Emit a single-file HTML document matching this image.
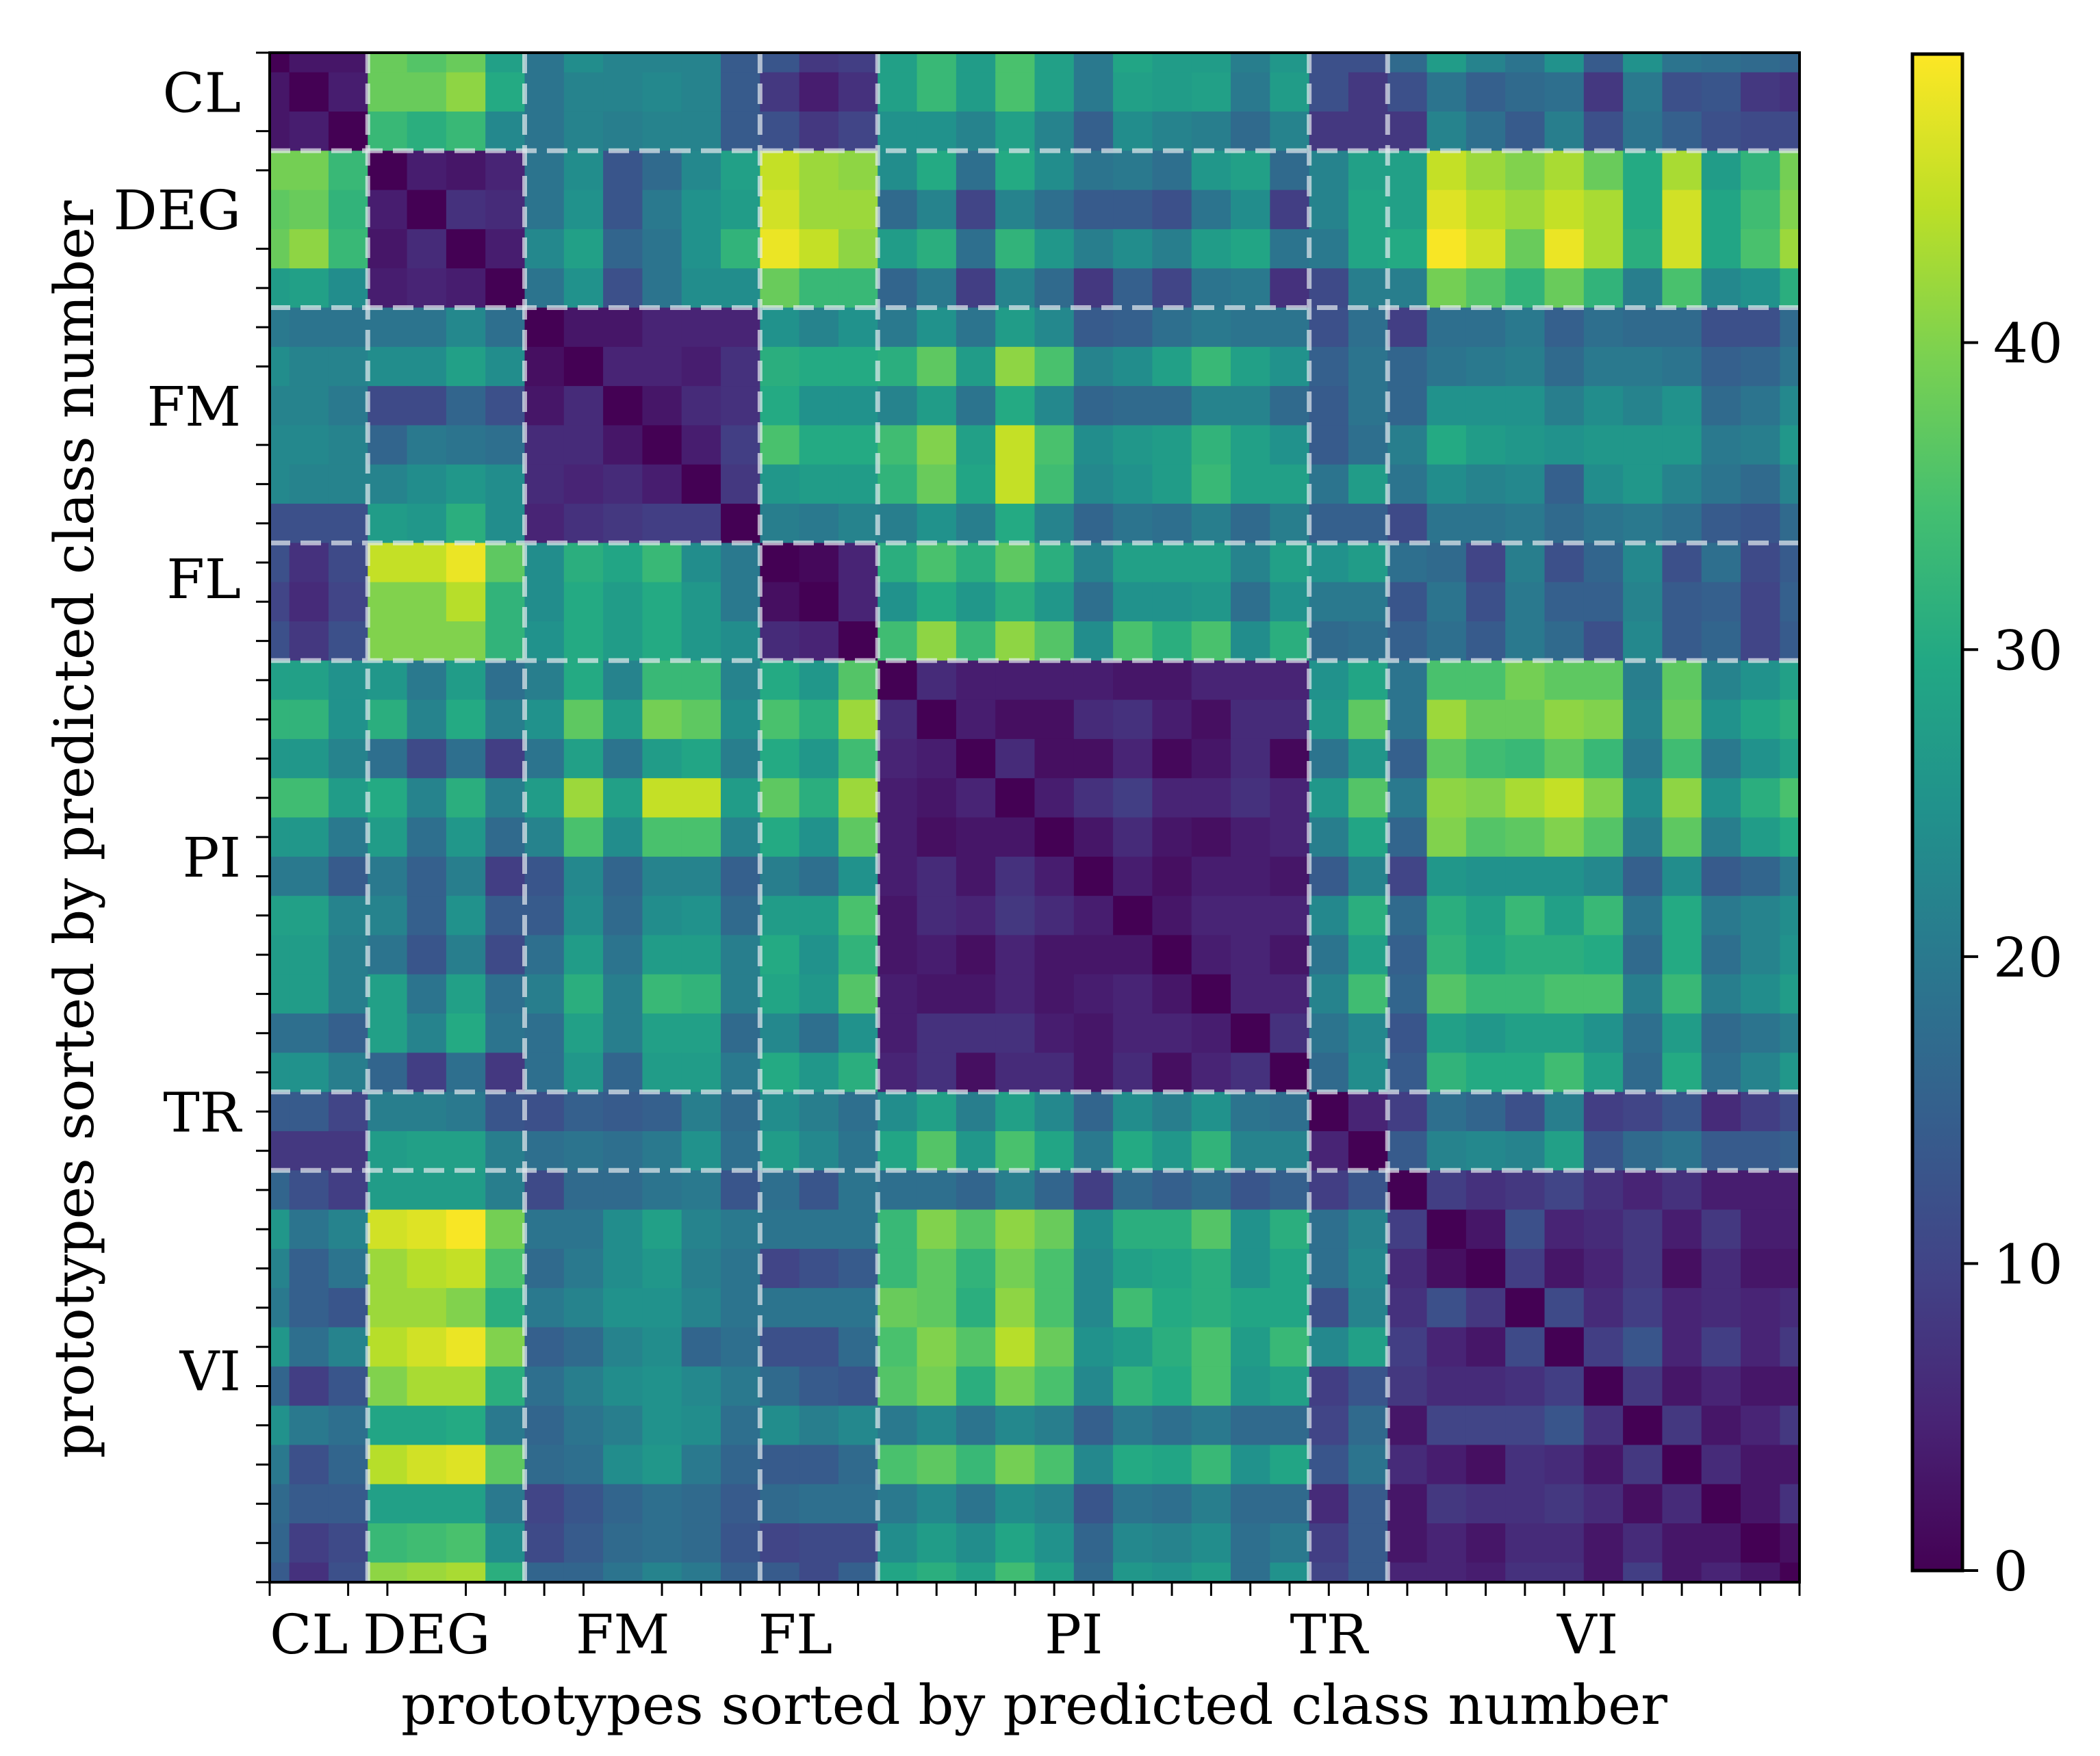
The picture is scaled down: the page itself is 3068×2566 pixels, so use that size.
<!DOCTYPE html>
<html><head><meta charset="utf-8">
<style>
html,body{margin:0;padding:0;background:#fff;}
svg{display:block;}
text{font-family:"DejaVu Serif","Liberation Serif",serif;fill:#000;}
</style></head>
<body>
<svg id="fig" width="3068" height="2566" viewBox="0 0 3068 2566" xmlns="http://www.w3.org/2000/svg">
<defs>
<clipPath id="axclip"><rect x="394" y="77" width="2235" height="2235"/></clipPath>
<linearGradient id="cbgrad" x1="0" y1="1" x2="0" y2="0">
<stop offset="0" stop-color="#440154"/><stop offset="0.1" stop-color="#482475"/><stop offset="0.2" stop-color="#414487"/><stop offset="0.3" stop-color="#355f8d"/><stop offset="0.4" stop-color="#2a788e"/><stop offset="0.5" stop-color="#21918c"/><stop offset="0.6" stop-color="#22a884"/><stop offset="0.7" stop-color="#44bf70"/><stop offset="0.8" stop-color="#7ad151"/><stop offset="0.9" stop-color="#bddf26"/><stop offset="1" stop-color="#fde725"/>
</linearGradient>
</defs>
<g id="cells" clip-path="url(#axclip)"></g>
<g id="dashes" clip-path="url(#axclip)"></g>
<rect x="394" y="77" width="2235" height="2235" fill="none" stroke="#000" stroke-width="4"/>
<g id="ticks"></g>
<text x="1511" y="2519" text-anchor="middle" font-size="80" textLength="1850" lengthAdjust="spacingAndGlyphs">prototypes sorted by predicted class number</text>
<text transform="translate(136,1212) rotate(-90)" text-anchor="middle" font-size="80" textLength="1838" lengthAdjust="spacingAndGlyphs">prototypes sorted by predicted class number</text>
<rect x="2794" y="79" width="73" height="2216" fill="url(#cbgrad)" stroke="#000" stroke-width="5"/>
<g id="cbticks"></g>
</svg>
<script>
const classLabels = ["CL","DEG","FM","FL","PI","TR","VI"];
const classLabelPos = [1,4,9,13.4,20.5,27.0,33.6];
const boundaries = [2.5,6.5,12.5,15.5,26.5,28.5];
const cbTicks = [0,10,20,30,40];
const vmax = 49.4;
const matrix = [
[0,3,3,38,36,38,28,19,24,22,22,22,14,13,8,9,28,33,27,35,28,20,29,27,27,21,26,12,12,17,27,22,19,25,14,25,19,18,17,16],
[3,0,4,38,38,41,30,19,22,22,23,22,14,8,4,7,28,33,27,35,28,20,28,27,28,20,27,12,8,12,19,15,17,18,8,20,12,13,8,7],
[3,4,0,33,31,33,23,19,22,21,22,22,14,12,8,10,25,25,22,28,22,15,24,22,21,17,22,8,8,8,22,18,14,21,12,19,15,12,11,11],
[39,39,33,0,4,3,5,19,24,13,17,23,28,45,42,41,24,30,18,30,24,19,20,18,26,28,17,22,28,28,45,42,40,43,38,30,43,27,32,39],
[37,38,32,4,0,7,6,19,25,13,20,25,27,46,42,42,17,22,10,22,18,14,14,12,19,24,9,22,29,28,47,44,42,45,43,30,46,29,34,40],
[38,41,33,3,6,0,4,23,28,16,19,25,32,48,45,41,27,31,18,32,26,21,24,21,27,29,19,20,29,30,49,46,38,48,43,31,46,29,35,42],
[27,28,24,4,5,4,0,19,25,12,19,24,24,38,33,33,16,20,9,22,17,8,15,10,19,20,7,11,21,21,39,36,32,38,32,21,35,23,25,31],
[20,19,19,19,19,23,18,0,3,3,5,5,5,25,22,25,20,25,19,27,23,14,15,18,20,19,19,12,18,9,18,18,20,15,18,17,17,12,12,17],
[24,22,22,24,24,28,24,2,0,5,5,4,7,31,30,30,31,37,27,41,35,22,24,28,33,28,25,15,19,16,19,20,21,17,20,20,19,15,16,19],
[22,22,20,11,11,16,12,3,6,0,3,6,7,30,25,25,22,27,19,30,23,16,17,17,22,22,17,14,19,16,25,25,25,21,24,22,25,17,19,23],
[23,23,22,16,20,19,18,6,6,3,0,4,9,35,30,30,34,40,28,45,35,24,26,27,32,28,25,14,18,21,30,27,26,25,26,26,26,20,21,26],
[23,22,22,22,24,26,24,6,5,6,4,0,8,26,27,27,32,38,29,45,34,23,25,27,33,28,28,19,27,19,24,22,23,15,24,26,22,19,17,22],
[12,12,12,27,26,31,24,5,7,8,9,9,0,21,20,22,21,25,21,30,22,16,19,18,21,17,21,15,15,11,19,19,20,17,19,20,18,14,13,17],
[12,7,11,45,45,48,37,24,31,29,33,24,20,0,1,5,31,35,31,37,31,22,28,28,28,22,28,25,27,18,17,10,21,12,16,23,12,18,11,14],
[10,6,10,40,40,44,32,24,30,27,30,26,20,2,0,5,25,30,26,31,26,18,25,25,26,18,25,20,20,13,19,12,20,15,15,22,14,15,10,15],
[12,8,12,40,40,40,32,25,30,27,30,26,24,6,5,0,34,41,33,41,36,24,35,31,35,24,31,17,18,15,18,14,20,17,12,23,14,16,10,14],
[28,28,25,26,20,27,18,21,30,22,33,33,22,30,26,36,0,6,4,4,4,4,3,3,5,5,5,25,29,19,35,35,39,37,37,21,37,22,25,28],
[32,32,25,31,22,30,21,25,37,27,39,37,24,35,31,42,6,0,4,2,2,6,7,4,2,6,6,26,37,19,42,38,38,41,40,22,38,25,29,31],
[26,26,22,18,11,18,9,19,28,19,27,29,21,30,26,34,5,4,0,6,2,2,5,1,3,6,1,19,26,15,37,34,33,37,33,20,34,20,25,28],
[34,34,27,30,22,31,21,27,42,28,45,45,27,37,31,42,4,3,5,0,4,7,9,5,5,7,5,26,36,20,41,40,43,45,40,24,41,25,31,35],
[26,26,20,27,18,26,17,22,35,24,35,35,22,30,25,37,4,2,3,3,0,3,6,3,2,4,5,21,29,16,40,36,37,40,36,21,37,21,27,30],
[20,20,14,20,15,21,9,13,23,16,22,22,15,21,18,25,4,6,3,7,4,0,4,2,4,4,3,14,22,10,26,25,25,25,23,15,24,14,16,20],
[28,28,22,22,15,25,14,14,24,17,24,25,17,27,27,35,3,6,5,8,6,4,0,3,5,5,5,23,31,17,31,28,33,28,33,19,30,20,22,24],
[27,27,21,19,13,21,11,18,27,19,27,27,21,30,25,32,3,4,2,5,3,3,3,0,4,5,3,19,28,15,32,29,31,31,30,17,30,18,22,25],
[27,27,21,28,19,28,18,21,31,21,33,32,21,29,26,36,4,3,3,5,3,4,5,3,0,5,5,22,34,16,36,33,33,35,35,21,33,21,24,27],
[18,18,15,28,22,30,19,18,28,21,28,28,17,23,18,25,4,7,7,7,4,3,5,5,4,0,7,19,23,13,28,26,28,28,25,18,27,17,19,21],
[25,25,21,16,9,18,8,18,26,16,27,27,20,30,26,31,5,7,2,6,6,3,6,2,5,7,0,17,24,14,32,30,30,34,28,17,30,18,22,26],
[14,14,10,21,21,20,13,12,15,14,15,21,17,24,21,18,24,28,21,28,23,16,24,21,25,19,18,0,5,9,18,16,12,21,9,10,13,6,9,11],
[8,8,8,27,28,28,21,18,19,18,20,25,18,27,23,19,29,36,26,35,29,20,30,26,32,22,22,5,0,14,22,23,22,28,13,17,19,14,14,15],
[16,12,9,27,27,27,21,11,17,17,19,20,13,18,13,19,18,18,16,21,16,9,17,15,17,13,15,9,13,0,9,7,8,10,7,5,7,4,4,4],
[26,19,22,46,47,49,39,19,19,24,28,22,20,19,19,19,33,40,36,41,38,24,31,31,36,25,31,18,22,9,0,3,12,5,6,8,4,8,4,4],
[22,15,19,42,44,45,35,17,20,24,26,21,19,10,12,14,33,37,32,39,35,23,28,29,31,25,29,18,23,6,2,0,9,3,5,8,2,6,3,3],
[20,15,13,42,42,40,31,20,22,25,25,22,19,19,19,19,38,37,31,41,35,23,34,30,31,29,29,12,22,7,12,8,0,11,6,9,5,6,5,6],
[26,18,22,44,46,48,40,15,17,22,24,16,18,12,12,17,35,40,36,44,38,25,27,31,35,27,33,23,28,9,5,3,11,0,9,13,5,9,5,8],
[16,9,13,40,43,43,31,18,21,24,25,23,20,17,14,13,36,39,31,39,35,23,32,30,35,26,28,9,13,8,6,6,7,9,0,8,3,5,3,3],
[25,20,18,29,29,30,20,16,19,21,25,24,18,24,21,23,20,23,19,23,21,15,20,18,20,17,17,10,17,3,10,10,10,13,7,0,8,3,5,8],
[20,12,16,44,46,47,37,17,18,24,26,20,16,14,14,17,35,37,33,39,35,23,30,29,33,25,29,13,19,6,4,2,7,6,3,8,0,6,3,3],
[17,14,14,28,28,28,20,10,13,16,18,17,14,17,18,18,20,23,19,24,22,13,19,18,21,17,17,6,14,3,8,7,7,8,6,2,6,0,3,7],
[16,9,11,33,34,35,24,11,14,17,18,17,13,10,11,11,24,27,24,29,25,16,23,22,24,18,20,9,14,3,5,3,6,6,3,6,3,3,0,2],
[14,7,12,41,42,43,31,16,16,19,22,20,15,14,11,15,29,31,28,34,28,17,26,25,27,18,25,10,14,5,5,4,7,7,3,9,3,5,3,0]
];

const NS = "http://www.w3.org/2000/svg";
const AX0 = 394, AY0 = 77, AW = 2235, N = matrix.length;
const S = AW / (N - 1);
function xPos(i){ return AX0 + i * S; }
function yPos(i){ return AY0 + i * S; }
const CB_Y0 = 2295, CB_H = 2216;
function cbY(v){ return CB_Y0 - v / vmax * CB_H; }

const VIR = ["#440154","#482475","#414487","#355f8d","#2a788e","#21918c","#22a884","#44bf70","#7ad151","#bddf26","#fde725"];
function hex(h){ return [parseInt(h.substr(1,2),16),parseInt(h.substr(3,2),16),parseInt(h.substr(5,2),16)]; }
function viridis(v){
  let t = Math.max(0, Math.min(1, v / vmax)) * (VIR.length - 1);
  let i = Math.min(VIR.length - 2, Math.floor(t)), f = t - i;
  const a = hex(VIR[i]), b = hex(VIR[i+1]);
  return "rgb(" + a.map((x,k)=>Math.round(x + (b[k]-x)*f)).join(",") + ")";
}
function mk(tag, attrs, parent){
  const e = document.createElementNS(NS, tag);
  for (const k in attrs) e.setAttribute(k, attrs[k]);
  parent.appendChild(e);
  return e;
}

const cells = document.getElementById("cells");
for (let r = 0; r < N; r++) {
  for (let c = 0; c < matrix[r].length; c++) {
    const el = mk("rect", {x: (xPos(c) - S/2).toFixed(2), y: (yPos(r) - S/2).toFixed(2), width: (S+0.6).toFixed(2), height: (S+0.6).toFixed(2), fill: viridis(matrix[r][c])}, cells);
    
    
  }
}

const dashes = document.getElementById("dashes");
boundaries.forEach(b => {
  const v = mk("line", {x1: xPos(b), x2: xPos(b), y1: AY0, y2: AY0 + AW, stroke: "rgba(230,235,240,0.7)", "stroke-width": 7, "stroke-dasharray": "30,15"}, dashes);
  
  
  const h = mk("line", {y1: yPos(b), y2: yPos(b), x1: AX0, x2: AX0 + AW, stroke: "rgba(230,235,240,0.7)", "stroke-width": 7, "stroke-dasharray": "30,15"}, dashes);
  
  
});

const ticks = document.getElementById("ticks");
const skip = [1,4,9];
for (let i = 0; i < N; i++) {
  if (skip.indexOf(i) >= 0) continue;
  const tx = mk("line", {x1: xPos(i), x2: xPos(i), y1: AY0 + AW, y2: AY0 + AW + 20, stroke: "#000", "stroke-width": 3}, ticks);
  
  
  const ty = mk("line", {y1: yPos(i), y2: yPos(i), x1: AX0, x2: AX0 - 20, stroke: "#000", "stroke-width": 3}, ticks);
  
  
}
classLabels.forEach((lab, k) => {
  const p = classLabelPos[k];
  const xl = mk("text", {x: xPos(p), y: 2416, "text-anchor": "middle", "font-size": 80}, ticks);
  xl.textContent = lab;
  
  
  const yl = mk("text", {x: 352, y: yPos(p) + 29, "text-anchor": "end", "font-size": 80}, ticks);
  yl.textContent = lab;
  
  
});

const cbt = document.getElementById("cbticks");
cbTicks.forEach(v => {
  const t = mk("line", {x1: 2867, x2: 2890, y1: cbY(v), y2: cbY(v), stroke: "#000", "stroke-width": 4}, cbt);
  
  
  const l = mk("text", {x: 2912, y: cbY(v) + 29, "font-size": 80}, cbt);
  l.textContent = String(v);
  
  
});
</script>
</body></html>
